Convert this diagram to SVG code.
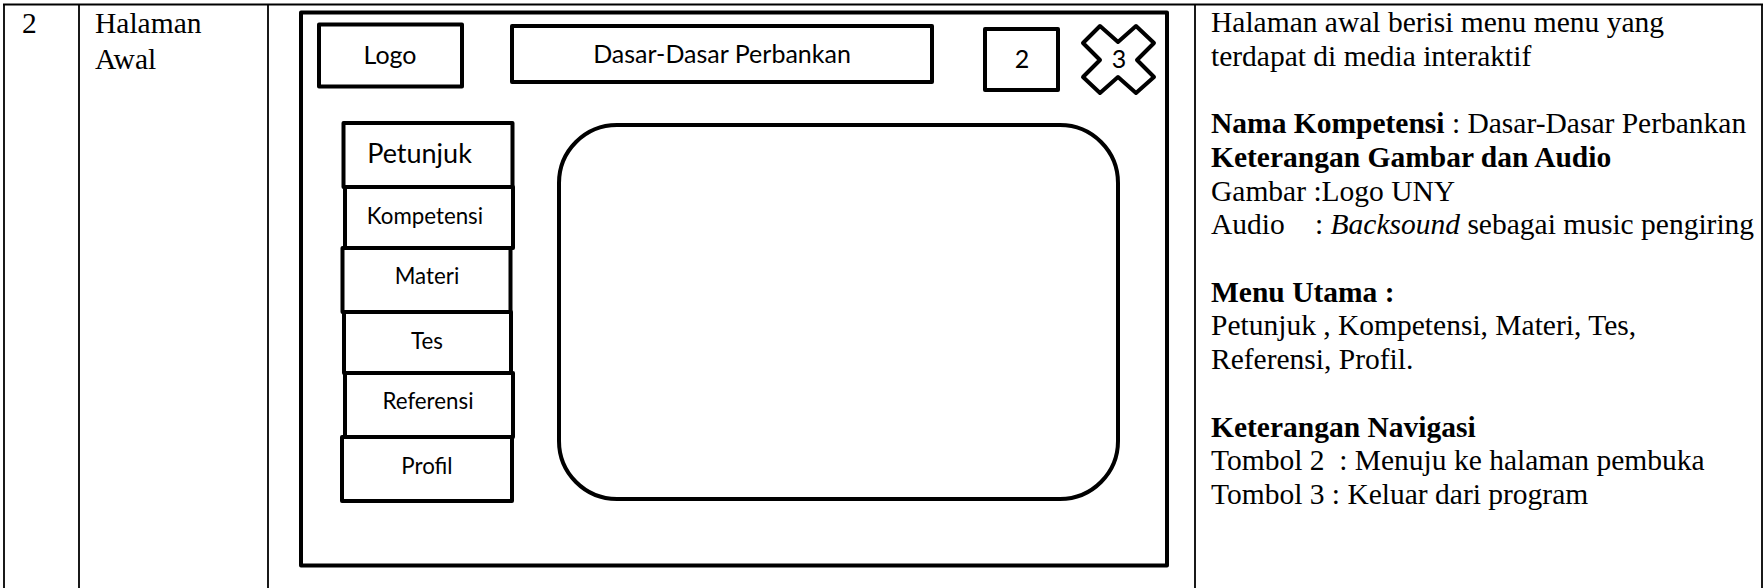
<svg xmlns="http://www.w3.org/2000/svg" width="1764" height="588" viewBox="0 0 1764 588">
<style>
.tl{stroke:#000;stroke-width:1.8;fill:none}
.tt{font-family:"Liberation Serif","Times New Roman",serif;font-size:29.5px;fill:#000}
.b{font-weight:bold}
.i{font-style:italic}
.box{fill:#fff;stroke:#000;stroke-width:4;stroke-linejoin:round}
.mt{font-family:Lato,"Open Sans",sans-serif;fill:#000;text-anchor:middle}
.big{font-size:25px}
.pt{font-size:27px}
.sm{font-size:22.3px}
</style>
<rect width="1764" height="588" fill="#fff"/>
<g id="table">
<line class="tl" x1="3" y1="4.5" x2="1763" y2="4.5"/>
<line class="tl" x1="4" y1="4" x2="4" y2="588"/>
<line class="tl" x1="79" y1="4" x2="79" y2="588"/>
<line class="tl" x1="268" y1="4" x2="268" y2="588"/>
<line class="tl" x1="1195" y1="4" x2="1195" y2="588"/>
<line class="tl" x1="1762" y1="4" x2="1762" y2="588"/>
<text class="tt" x="22" y="33">2</text>
<text class="tt" x="95" y="33">Halaman</text>
<text class="tt" x="95" y="69">Awal</text>
</g>
<g id="frame"><rect class="box" x="301" y="12.5" width="866" height="553"/></g>
<g id="logo"><rect class="box" x="319" y="24.5" width="143" height="62"/><text class="mt big" x="390" y="64">Logo</text></g>
<g id="title"><rect class="box" x="512" y="26" width="420" height="56"/><text class="mt big" x="722" y="63">Dasar-Dasar Perbankan</text></g>
<g id="btn2"><rect class="box" x="985" y="29" width="73" height="61"/><text class="mt big" x="1022" y="68">2</text></g>
<g id="btn3"><polygon class="box" points="1083,43 1100,26 1118,42 1136,26 1154,43 1137,60 1154,77 1136,93 1118,77 1100,93 1083,77 1100,60"/><text class="mt big" x="1119" y="68">3</text></g>
<g id="m-petunjuk"><rect class="box" x="343.5" y="123" width="169" height="64"/><text class="mt pt" x="419.5" y="163">Petunjuk</text></g>
<g id="m-kompetensi"><rect class="box" x="345" y="187" width="168" height="61"/><text class="mt sm" x="425" y="224">Kompetensi</text></g>
<g id="m-materi"><rect class="box" x="342.5" y="248" width="168" height="64"/><text class="mt sm" x="427" y="284">Materi</text></g>
<g id="m-tes"><rect class="box" x="344" y="312" width="167" height="61"/><text class="mt sm" x="427" y="349">Tes</text></g>
<g id="m-referensi"><rect class="box" x="345" y="373" width="168" height="64"/><text class="mt sm" x="428" y="409">Referensi</text></g>
<g id="m-profil"><rect class="box" x="342" y="437" width="170" height="64"/><text class="mt sm" x="427" y="474">Profil</text></g>
<g id="content"><rect class="box" x="559" y="125" width="559" height="374" rx="58" ry="58"/></g>
<g id="description">
<text class="tt" x="1211" y="32">Halaman awal berisi menu menu yang</text>
<text class="tt" x="1211" y="65.7">terdapat di media interaktif</text>
<text class="tt" x="1211" y="133"><tspan class="b">Nama Kompetensi</tspan> : Dasar-Dasar Perbankan</text>
<text class="tt b" x="1211" y="167">Keterangan Gambar dan Audio</text>
<text class="tt" x="1211" y="200.6">Gambar :Logo UNY</text>
<text class="tt" x="1211" y="234.3">Audio</text>
<text class="tt" x="1315" y="234.3">: <tspan class="i">Backsound</tspan> sebagai music pengiring</text>
<text class="tt b" x="1211" y="301.7">Menu Utama :</text>
<text class="tt" x="1211" y="335.4">Petunjuk , Kompetensi, Materi, Tes,</text>
<text class="tt" x="1211" y="369">Referensi, Profil.</text>
<text class="tt b" x="1211" y="436.5">Keterangan Navigasi</text>
<text class="tt" x="1211" y="470" xml:space="preserve">Tombol 2  : Menuju ke halaman pembuka</text>
<text class="tt" x="1211" y="504">Tombol 3 : Keluar dari program</text>
</g>
</svg>
